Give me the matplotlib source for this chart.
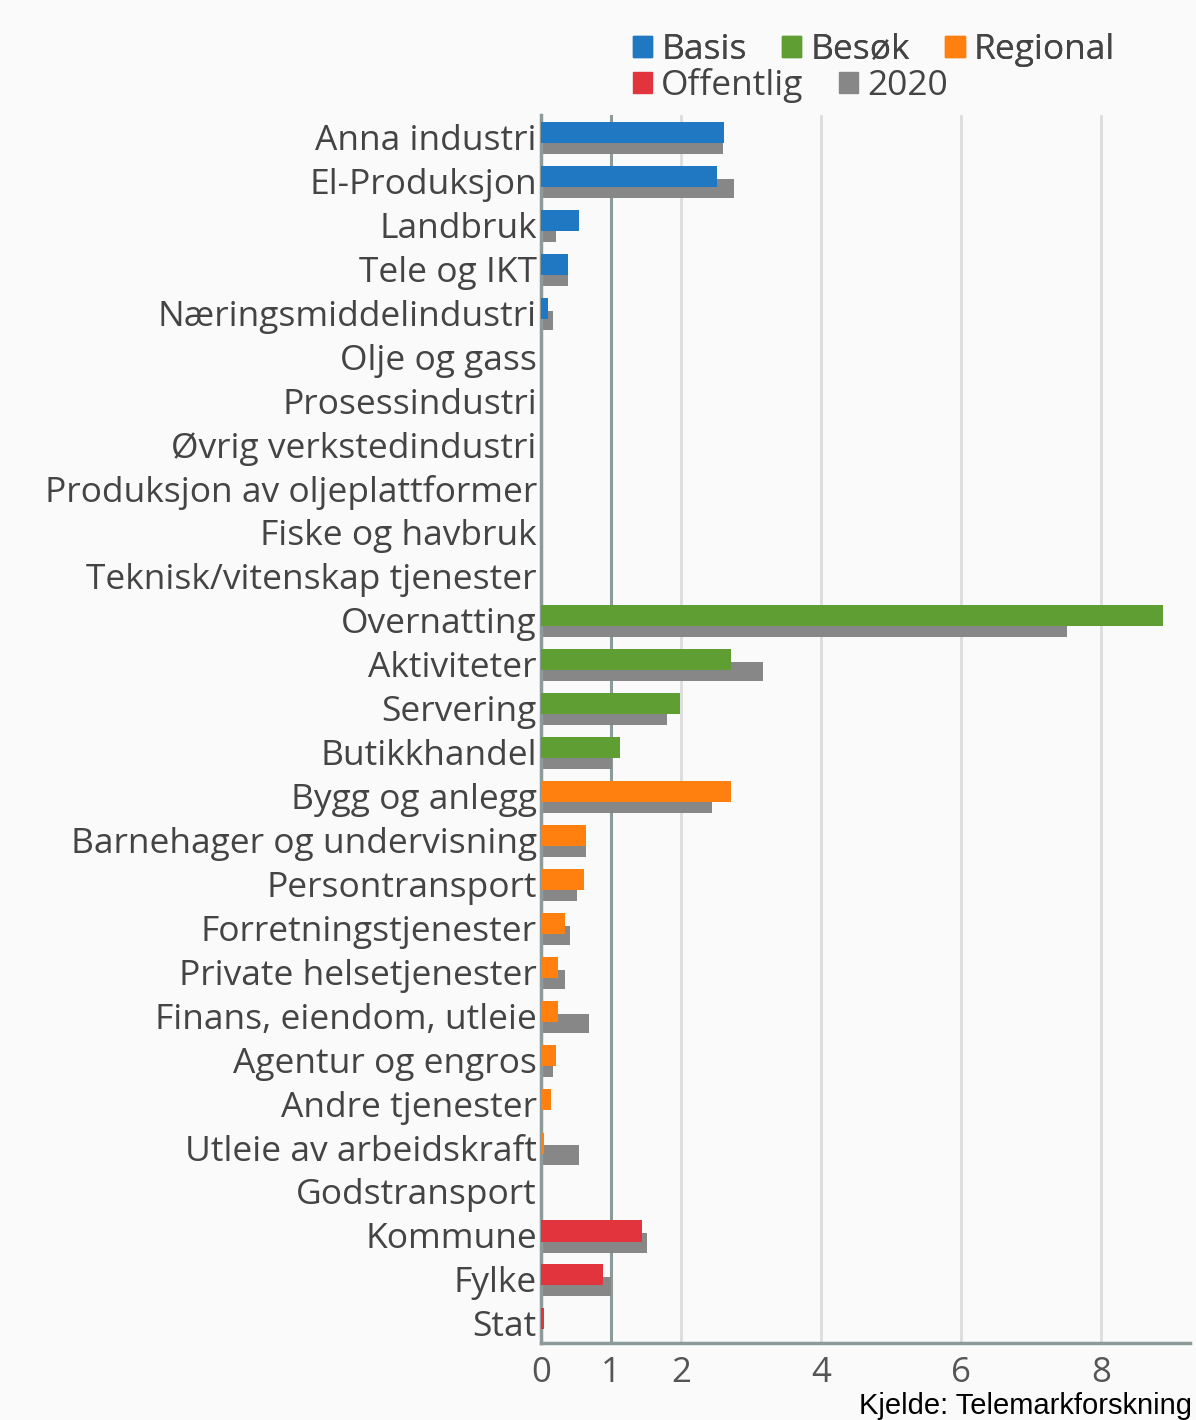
import numpy as np
import matplotlib
matplotlib.use("Agg")
import matplotlib.pyplot as plt
from matplotlib.patches import Patch

kategoriar = ["Anna industri", "El-Produksjon", "Landbruk", "Tele og IKT",
              "Næringsmiddelindustri", "Olje og gass", "Prosessindustri",
              "Øvrig verkstedindustri", "Produksjon av oljeplattformer",
              "Fiske og havbruk", "Teknisk/vitenskap tjenester", "Overnatting",
              "Aktiviteter", "Servering", "Butikkhandel", "Bygg og anlegg",
              "Barnehager og undervisning", "Persontransport",
              "Forretningstjenester", "Private helsetjenester",
              "Finans, eiendom, utleie", "Agentur og engros", "Andre tjenester",
              "Utleie av arbeidskraft", "Godstransport", "Kommune", "Fylke", "Stat"]

gruppe = ["Basis"] * 11 + ["Besøk"] * 4 + ["Regional"] * 10 + ["Offentlig"] * 3

verdi = [2.62, 2.52, 0.54, 0.38, 0.10, 0, 0, 0, 0, 0, 0,
         8.89, 2.72, 1.98, 1.13,
         2.72, 0.64, 0.61, 0.34, 0.24, 0.24, 0.21, 0.14, 0.05, 0,
         1.44, 0.89, 0.05]

verdi_2020 = [2.60, 2.75, 0.21, 0.38, 0.17, 0, 0, 0, 0, 0, 0,
              7.52, 3.17, 1.80, 1.01,
              2.45, 0.64, 0.51, 0.41, 0.34, 0.69, 0.17, 0, 0.54, 0,
              1.51, 1.00, 0]

fargar = {"Basis": "#1f78c1", "Besøk": "#5f9e33", "Regional": "#ff800e",
          "Offentlig": "#e2343c", "2020": "#878787"}

y = np.arange(len(kategoriar))

fig = plt.figure(figsize=(11.96, 14.2), dpi=100, facecolor="#fafafa")
ax = fig.add_axes([0.4523, 0.0542, 0.5427, 0.8648])
ax.set_facecolor("#fafafa")

ax.barh(y + 0.17, verdi_2020, height=0.44, color=fargar["2020"], zorder=2)
ax.barh(y - 0.1, verdi, height=0.48, color=[fargar[g] for g in gruppe], zorder=3)

ax.set_xlim(0, 9.27)
ax.set_ylim(len(kategoriar) - 0.55, -0.5)
ax.set_yticks(y)
ax.set_yticklabels(kategoriar, fontsize=25.5, color="#444444", family="Open Sans")
ax.set_xticks([0, 1, 2, 4, 6, 8])
ax.set_xticklabels(["0", "1", "2", "4", "6", "8"], fontsize=25, color="#555555",
                   family="Open Sans")
ax.tick_params(length=0, pad=3)
ax.tick_params(axis="x", pad=9)

for x in [2, 4, 6, 8]:
    ax.axvline(x, color="#dcdcdc", lw=2, zorder=1)
ax.axvline(1, color="#8c9a9a", lw=2.2, zorder=1)

for s in ["top", "right"]:
    ax.spines[s].set_visible(False)
for s in ["left", "bottom"]:
    ax.spines[s].set_color("#8c9a9a")
    ax.spines[s].set_linewidth(2.5)
    ax.spines[s].set_zorder(2.5)

leg_kw = dict(frameon=False, handlelength=0.55, handleheight=0.55,
              handletextpad=0.25, columnspacing=1.0, borderpad=0,
              borderaxespad=0, prop={"family": "Open Sans", "size": 25.5},
              labelcolor="#444444", loc="center left")
rad1 = ["Basis", "Besøk", "Regional"]
rad2 = ["Offentlig", "2020"]
l1 = fig.legend(handles=[Patch(color=fargar[n], label=n) for n in rad1], ncol=3,
                bbox_to_anchor=(0.529, 0.965), **leg_kw)
fig.add_artist(l1)
fig.legend(handles=[Patch(color=fargar[n], label=n) for n in rad2], ncol=2,
           bbox_to_anchor=(0.529, 0.940), **leg_kw)

fig.text(0.997, 0.0, "Kjelde: Telemarkforskning", ha="right", va="bottom",
         fontsize=21, family="Liberation Sans", color="black")

fig.savefig("out.png", dpi=100, facecolor=fig.get_facecolor())
